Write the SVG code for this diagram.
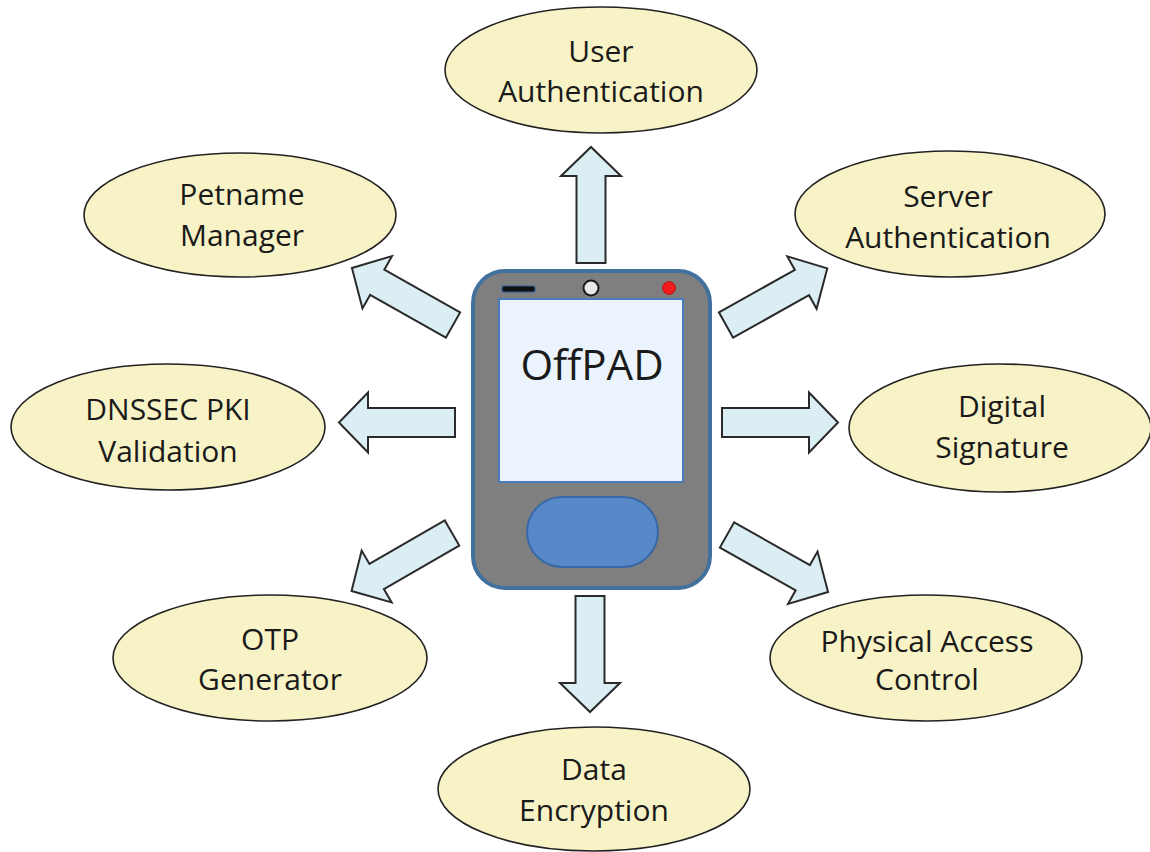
<svg xmlns="http://www.w3.org/2000/svg" xmlns:xlink="http://www.w3.org/1999/xlink" width="1150" height="852" viewBox="0 0 1150 852">
<style>
.node ellipse{fill:#f8f3c6;stroke:#222;stroke-width:1.6}
.lbl{font-family:"Open Sans","Liberation Sans",sans-serif;font-size:30px;fill:#1a1a1a;text-anchor:middle}
.arr{fill:#daeef4;stroke:#2a2a2a;stroke-width:2;stroke-linejoin:miter}
</style>
<defs>
<path id="arrow" d="M0,-14.5 H87 V-30 L116,0 L87,30 V14.5 H0 Z"/>
</defs>
<rect width="1150" height="852" fill="#ffffff"/>
<g id="connectors" class="arr">
<use xlink:href="#arrow" href="#arrow" transform="translate(591,263) rotate(-90)"/>
<use xlink:href="#arrow" href="#arrow" transform="translate(590,596) rotate(90)"/>
<use xlink:href="#arrow" href="#arrow" transform="translate(722,422.5)"/>
<use xlink:href="#arrow" href="#arrow" transform="translate(455,422.5) rotate(180)"/>
<use xlink:href="#arrow" href="#arrow" transform="translate(726,325) rotate(-29.2)"/>
<use xlink:href="#arrow" href="#arrow" transform="translate(727,535) rotate(29.4)"/>
<use xlink:href="#arrow" href="#arrow" transform="translate(453,325) rotate(-150.6)"/>
<use xlink:href="#arrow" href="#arrow" transform="translate(452,533) rotate(150)"/>
</g>
<g id="offpad">
<rect x="473" y="271" width="237" height="317" rx="32" ry="32" fill="#7f7f7f" stroke="#41719c" stroke-width="4"/>
<rect x="499" y="299" width="184" height="183" fill="#ebf4fc" stroke="#4a7bbf" stroke-width="2"/>
<rect x="502" y="286" width="33" height="6" rx="2" fill="#111" stroke="#2f5f9a" stroke-width="1.2"/>
<circle cx="591" cy="288" r="7.5" fill="#e8e8e8" stroke="#1a1a1a" stroke-width="2"/>
<circle cx="669" cy="288" r="6.5" fill="#ee1c1c" stroke="#b01010" stroke-width="0.8"/>
<rect x="527" y="497" width="131" height="70" rx="35" ry="35" fill="#5788c8" stroke="#3a68a6" stroke-width="2"/>
<text x="592" y="380" style="font-family:'Open Sans','Liberation Sans',sans-serif;font-size:42px;fill:#1a1a1a;text-anchor:middle">OffPAD</text>
</g>
<g id="user-auth" class="node">
<ellipse cx="601" cy="70" rx="156" ry="63"/>
<text class="lbl" x="601" y="62">User</text>
<text class="lbl" x="601" y="102">Authentication</text>
</g>
<g id="petname" class="node">
<ellipse cx="240" cy="215" rx="156" ry="62"/>
<text class="lbl" x="242" y="205">Petname</text>
<text class="lbl" x="242" y="246">Manager</text>
</g>
<g id="server-auth" class="node">
<ellipse cx="950" cy="214" rx="155" ry="63"/>
<text class="lbl" x="948" y="207">Server</text>
<text class="lbl" x="948" y="248">Authentication</text>
</g>
<g id="dnssec" class="node">
<ellipse cx="168" cy="427" rx="157" ry="63"/>
<text class="lbl" x="168" y="420">DNSSEC PKI</text>
<text class="lbl" x="168" y="462">Validation</text>
</g>
<g id="digital-signature" class="node">
<ellipse cx="1000" cy="428" rx="151" ry="64"/>
<text class="lbl" x="1002" y="417">Digital</text>
<text class="lbl" x="1002" y="458">Signature</text>
</g>
<g id="otp" class="node">
<ellipse cx="270" cy="658" rx="157" ry="63"/>
<text class="lbl" x="270" y="650">OTP</text>
<text class="lbl" x="270" y="690">Generator</text>
</g>
<g id="physical-access" class="node">
<ellipse cx="926" cy="658" rx="156" ry="63"/>
<text class="lbl" x="927" y="652">Physical Access</text>
<text class="lbl" x="927" y="690">Control</text>
</g>
<g id="data-encryption" class="node">
<ellipse cx="594" cy="789" rx="156" ry="62"/>
<text class="lbl" x="594" y="780">Data</text>
<text class="lbl" x="594" y="821">Encryption</text>
</g>
</svg>
